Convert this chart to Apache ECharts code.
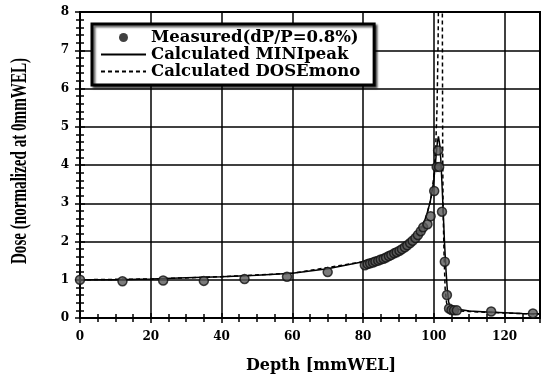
<!DOCTYPE html>
<html>
<head>
<meta charset="utf-8">
<script src="https://cdn.jsdelivr.net/npm/echarts@6/dist/echarts.min.js"></script>
<style>
html,body{margin:0;padding:0;background:#fff;}
#c{width:542px;height:379px;}
</style>
</head>
<body>
<div id="c"></div>
<script>
// Measured points
var measDepth = [0,12,23.5,35,46.5,58.5,70,80.5,81.3,82,82.8,83.5,84.3,85,85.8,86.5,87.3,88,88.8,89.5,90.3,91,91.8,92.5,93.3,94,94.8,95.5,96.3,97,98.2,99.1,100.1,100.8,101.2,101.5,102.3,103.1,103.7,104.3,105,105.7,106.5,116.2,128];
var measDose  = [1.0,0.96,0.98,0.97,1.02,1.08,1.2,1.38,1.41,1.43,1.45,1.48,1.5,1.53,1.55,1.58,1.62,1.65,1.69,1.72,1.76,1.8,1.85,1.9,1.96,2.02,2.09,2.17,2.27,2.37,2.45,2.66,3.32,3.95,4.38,3.95,2.78,1.47,0.6,0.25,0.21,0.2,0.2,0.17,0.12];
// Calculated MINIpeak
var miniDepth = [0,10,20,30,40,50,60,70,80,85,88,90,92,94,95,96,97,98,99,100,100.5,101,101.3,101.7,102,102.5,103,103.4,103.8,104.2,104.6,105,110,115,120,125,130];
var miniDose  = [1.0,1.0,1.02,1.05,1.08,1.12,1.17,1.29,1.47,1.6,1.7,1.78,1.9,2.05,2.15,2.27,2.45,2.7,3.05,3.6,4.1,4.6,4.75,4.5,4.1,3.1,2.0,1.3,0.75,0.42,0.26,0.21,0.18,0.16,0.14,0.12,0.11];
// Calculated DOSEmono
var monoDepth = [0,20,40,60,80,90,95,97,98,99,99.5,100,100.5,100.9,101.2,101.5,102.1,102.4,102.5,102.6,102.9,103.2,103.6,104,105,110,120,130];
var monoDose  = [1.0,1.02,1.08,1.17,1.47,1.78,2.15,2.45,2.7,3.05,3.3,3.7,4.4,5.5,7.2,10,10,8,4.5,2.9,1.6,0.75,0.4,0.25,0.2,0.17,0.13,0.1];
// Axis ticks
var xTicks = [0,20,40,60,80,100,120];
var yTicks = [0,1,2,3,4,5,6,7,8];
var names = ['Measured(dP/P=0.8%)','Calculated MINIpeak','Calculated DOSEmono'];
var xTitle = 'Depth [mmWEL]';
var yTitle = 'Dose (normalized at 0mmWEL)';

function zip(a,b){return a.map(function(v,i){return [v,b[i]];});}

var serif = 'DejaVu Serif';
var tickFont = {fontFamily: serif, fontWeight:'bold', fontSize:12, color:'#000'};

function xAx(pos, labels){
  return {
    type:'value', position:pos, min:0, max:130, interval:20,
    axisLine:{show:true, lineStyle:{color:'#000', width:2}},
    axisTick:{show:true, inside:true, length:5, lineStyle:{color:'#000', width:1.5}},
    minorTick:{show:true, splitNumber:4, length:4, lineStyle:{color:'#000', width:1.5}},
    axisLabel: labels ? Object.assign({show:true, margin:13, showMaxLabel:false}, tickFont) : {show:false},
    splitLine:{show: pos==='bottom', lineStyle:{color:'#000', width:1.5}},
    name: labels ? xTitle : '',
    nameLocation:'middle', nameGap:40,
    nameTextStyle:{fontFamily:serif, fontWeight:'bold', fontSize:16, color:'#000', padding:[0,0,0,22]}
  };
}
function yAx(pos, labels){
  return {
    type:'value', position:pos, min:0, max:8, interval:1,
    axisLine:{show:true, lineStyle:{color:'#000', width:2}},
    axisTick:{show:true, inside:true, length:5, lineStyle:{color:'#000', width:1.5}},
    minorTick:{show:true, splitNumber:5, length:4, lineStyle:{color:'#000', width:1.5}},
    axisLabel: labels ? Object.assign({show:true, margin:11}, tickFont) : {show:false},
    splitLine:{show: pos==='left', lineStyle:{color:'#000', width:1.5}}
  };
}

var chart = echarts.init(document.getElementById('c'), null, {renderer:'canvas'});
chart.setOption({
  animation:false,
  backgroundColor:'#fff',
  grid:{left:80, right:2, top:12, bottom:58, show:true, borderColor:'#000', borderWidth:2},
  xAxis:[xAx('bottom', true), xAx('top', false)],
  yAxis:[yAx('left', true), yAx('right', false)],
  graphic:[{
    type:'text', x:20, y:161, rotation:Math.PI/2, scaleX:0.63, scaleY:1,
    style:{text:yTitle, font:'bold 24px "Liberation Serif"', fill:'#000',
      align:'center', verticalAlign:'middle', textAlign:'center', textVerticalAlign:'middle'}
  }],
  legend:{
    orient:'vertical', left:92, top:24, padding:[5,14,5,8],
    itemWidth:45, itemHeight:9, itemGap:0,
    backgroundColor:'#fff', borderColor:'#000', borderWidth:3,
    shadowColor:'rgba(0,0,0,0.6)', shadowOffsetX:2, shadowOffsetY:2, shadowBlur:2,
    textStyle:{fontFamily:serif, fontWeight:'bold', fontSize:16.5, color:'#000', lineHeight:17},
    data:[
      {name:names[0], icon:'circle', itemStyle:{color:'#111', borderWidth:0}},
      {name:names[1], itemStyle:{opacity:0}},
      {name:names[2], itemStyle:{opacity:0}}
    ]
  },
  series:[
    {
      name:names[1], type:'line', data:zip(miniDepth, miniDose), showSymbol:false, symbol:'none',
      lineStyle:{color:'#000', width:1.5}, itemStyle:{color:'#000'}, z:3
    },
    {
      name:names[2], type:'line', data:zip(monoDepth, monoDose), showSymbol:false, symbol:'none',
      lineStyle:{color:'#000', width:1.5, type:[4,3]}, itemStyle:{color:'#000'}, z:2
    },
    {
      name:names[0], type:'scatter', data:zip(measDepth, measDose), symbol:'circle', symbolSize:9,
      itemStyle:{color:'#5a5a5a', borderColor:'#111', borderWidth:1.5}, z:4
    }
  ]
});
</script>
</body>
</html>
